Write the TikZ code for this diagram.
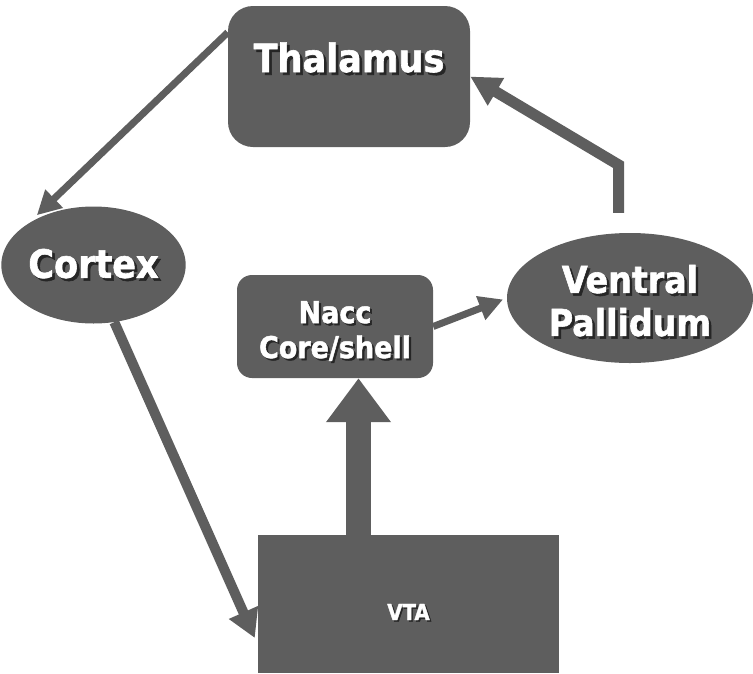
\documentclass[tikz,border=0pt]{standalone}
\usepackage{fontspec}
\setmainfont{DejaVu Sans Condensed}[BoldFeatures={FakeBold=1.5}]
\usetikzlibrary{shapes.geometric, arrows.meta, positioning, calc}
\definecolor{boxgray}{HTML}{5E5E5E}
% white label with a dark drop shadow
\newcommand{\shd}[1]{\leavevmode\rlap{\kern0.07em\raisebox{-0.07em}{\color{black!85}#1}}#1}

\begin{document}
\begin{tikzpicture}[
    x=1pt, y=-1pt,
    region/.style={fill=boxgray, draw=none, text=white, font=\bfseries, align=center, inner sep=0pt},
    rbox/.style={region, rectangle, rounded corners=#1},
    oval/.style={region, ellipse},
    thinarrow/.style={-{Triangle[width=24pt, length=24pt]}, draw=boxgray, line width=7pt},
    midarrow/.style={-{Triangle[width=30pt, length=28pt]}, draw=boxgray, line width=10pt},
    wideArrow/.style={-{Triangle[width=30pt, length=30pt]}, draw=boxgray, line width=11pt},
    fatarrow/.style={-{Triangle[width=62pt, length=44pt]}, draw=boxgray, line width=25pt}
  ]
    \useasboundingbox (0,0) rectangle (753,673);

    % Regions
    \node[rbox=25pt, minimum width=242pt, minimum height=141pt, text height=29pt, text depth=38pt,
          font=\fontsize{39}{44}\selectfont\bfseries] (thal) at (349,76.5) {\shd{Thalamus}};
    \node[oval, minimum width=173pt, minimum height=117pt,
          font=\fontsize{39}{44}\selectfont\bfseries] (cortex) at (93.5,265) {\shd{Cortex}};
    \node[oval, minimum width=246pt, minimum height=130pt,
          font=\fontsize{37}{43}\selectfont\bfseries] (vp) at (630,298) {\rule{0pt}{36pt}\shd{Ventral}\\\shd{Pallidum}};
    \node[rbox=15pt, minimum width=196pt, minimum height=103pt,
          font=\fontsize{30}{35}\selectfont\bfseries] (nacc) at (335,326.5) {\rule{0pt}{33pt}\shd{Nacc}\\\shd{Core/shell}};
    \node[region, rectangle, minimum width=301pt, minimum height=138pt, text height=32pt, text depth=0pt,
          font=\fontsize{22}{26}\selectfont\bfseries] (vta) at (408.5,604) {\shd{VTA}};

    % Connections
    \draw[thinarrow, shorten >=12pt] (thal.160) -- (cortex.north west);
    \draw[midarrow] (cortex.-70) -- ([shift={(-3,34)}]vta.west);
    \draw[fatarrow] ([xshift=-50pt]vta.north) -- ([xshift=-50pt]vta.north |- nacc.south);
    \draw[thinarrow, shorten >=4pt] (nacc.east) -- (vp.west);
    \draw[wideArrow] ([shift={(-11.5,-20)}]vp.north) -- ++(0,-48) -- (thal.east);
  \end{tikzpicture}
\end{document}
